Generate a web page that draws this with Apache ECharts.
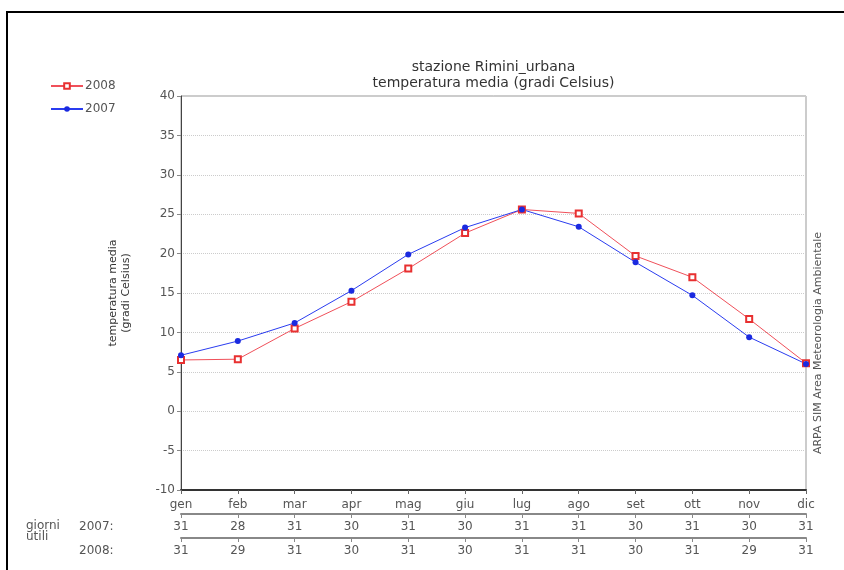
<!DOCTYPE html>
<html>
<head>
<meta charset="utf-8">
<script src="https://cdn.jsdelivr.net/npm/echarts@6/dist/echarts.min.js"></script>
<style>html,body{margin:0;padding:0;background:#fff}#c{width:844px;height:570px}</style>
</head>
<body>
<div id="c"></div>
<script>
const months = ['gen','feb','mar','apr','mag','giu','lug','ago','set','ott','nov','dic'];
const temp2008 = [6.5, 6.6, 10.5, 13.9, 18.1, 22.6, 25.6, 25.1, 19.7, 17.0, 11.7, 6.1];
const temp2007 = [7.1, 8.9, 11.2, 15.3, 19.9, 23.3, 25.6, 23.4, 18.9, 14.7, 9.4, 6.0];
const days2007 = ['31','28','31','30','31','30','31','31','30','31','30','31'];
const days2008 = ['31','29','31','30','31','30','31','31','30','31','29','31'];
const yTicks = [-10, 40, 5];

const FONT = 'DejaVu Sans';
const TXT = '#555';
const chart = echarts.init(document.getElementById('c'));
const L = 181, R = 38;
function tableAxis(idx, data) {
  return {
    type: 'category', gridIndex: idx, data: data, boundaryGap: false, position: 'bottom',
    axisLine: {onZero: false, lineStyle: {color: '#888', width: 2}},
    axisTick: {show: true, length: 4, inside: false, lineStyle: {color: '#888'}},
    axisLabel: {color: TXT, fontFamily: FONT, fontSize: 12, margin: 7}
  };
}
chart.setOption({
  animation: false,
  backgroundColor: '#fff',
  grid: [
    {left: L, right: R, top: 96, bottom: 80, show: true, borderColor: '#999', borderWidth: 1},
    {left: L, right: R, top: 514, height: 0},
    {left: L, right: R, top: 538, height: 0}
  ],
  legend: {
    orient: 'vertical', left: 45, top: 75, itemWidth: 32, itemHeight: 7, itemGap: 11,
    data: ['2008', '2007'],
    textStyle: {color: TXT, fontFamily: FONT, fontSize: 12, padding: [0, 0, 0, -3]}
  },
  xAxis: [
    {
      type: 'category', gridIndex: 0, data: months, boundaryGap: false,
      axisLine: {onZero: false, lineStyle: {color: '#333', width: 2}},
      axisTick: {show: true, length: 4, lineStyle: {color: '#666'}},
      axisLabel: {color: TXT, fontFamily: FONT, fontSize: 12, margin: 9},
      splitLine: {show: false}
    },
    tableAxis(1, days2007),
    tableAxis(2, days2008)
  ],
  yAxis: [
    {
      type: 'value', gridIndex: 0, min: yTicks[0], max: yTicks[1], interval: yTicks[2],
      name: 'temperatura media\n(gradi Celsius)', nameLocation: 'middle', nameGap: 48, nameRotate: 90,
      nameTextStyle: {color: '#333', fontFamily: FONT, fontSize: 11, lineHeight: 13},
      axisLine: {show: true, onZero: false, lineStyle: {color: '#444', width: 1}},
      axisTick: {show: true, length: 4, lineStyle: {color: '#888'}},
      axisLabel: {color: TXT, fontFamily: FONT, fontSize: 12, margin: 6},
      splitLine: {show: true, lineStyle: {color: '#ccc', type: 'dotted'}}
    },
    {type: 'value', gridIndex: 1, show: false},
    {type: 'value', gridIndex: 2, show: false}
  ],
  series: [
    {
      name: '2008', type: 'line', xAxisIndex: 0, yAxisIndex: 0, data: temp2008,
      symbol: 'emptyRect', symbolSize: 6,
      lineStyle: {color: '#f0505a', width: 1},
      itemStyle: {color: '#e83030', borderColor: '#e83030', borderWidth: 1}
    },
    {
      name: '2007', type: 'line', xAxisIndex: 0, yAxisIndex: 0, data: temp2007,
      symbol: 'circle', symbolSize: 6,
      lineStyle: {color: '#2a3cf0', width: 1},
      itemStyle: {color: '#1a2ae0'}
    }
  ],
  graphic: [
    {type: 'rect', shape: {x: 7, y: 12, width: 900, height: 620}, style: {fill: 'none', stroke: '#000', lineWidth: 2}, silent: true},
    {type: 'text', x: 493.5, y: 67, style: {text: 'stazione Rimini_urbana', fill: '#333', font: '14px "DejaVu Sans"', textAlign: 'center', textVerticalAlign: 'middle'}},
    {type: 'text', x: 493.5, y: 83, style: {text: 'temperatura media (gradi Celsius)', fill: '#333', font: '14px "DejaVu Sans"', textAlign: 'center', textVerticalAlign: 'middle'}},
    {type: 'text', x: 818, y: 343, rotation: Math.PI / 2, style: {text: 'ARPA SIM Area Meteorologia Ambientale', fill: '#555', font: '11px "DejaVu Sans"', textAlign: 'center', textVerticalAlign: 'middle'}},
    {type: 'text', x: 26, y: 526, style: {text: 'giorni', fill: TXT, font: '12px "DejaVu Sans"', textVerticalAlign: 'middle'}},
    {type: 'text', x: 26, y: 537, style: {text: 'utili', fill: TXT, font: '12px "DejaVu Sans"', textVerticalAlign: 'middle'}},
    {type: 'text', x: 79, y: 527, style: {text: '2007:', fill: TXT, font: '12px "DejaVu Sans"', textVerticalAlign: 'middle'}},
    {type: 'text', x: 79, y: 551, style: {text: '2008:', fill: TXT, font: '12px "DejaVu Sans"', textVerticalAlign: 'middle'}}
  ]
});
</script>
</body>
</html>
